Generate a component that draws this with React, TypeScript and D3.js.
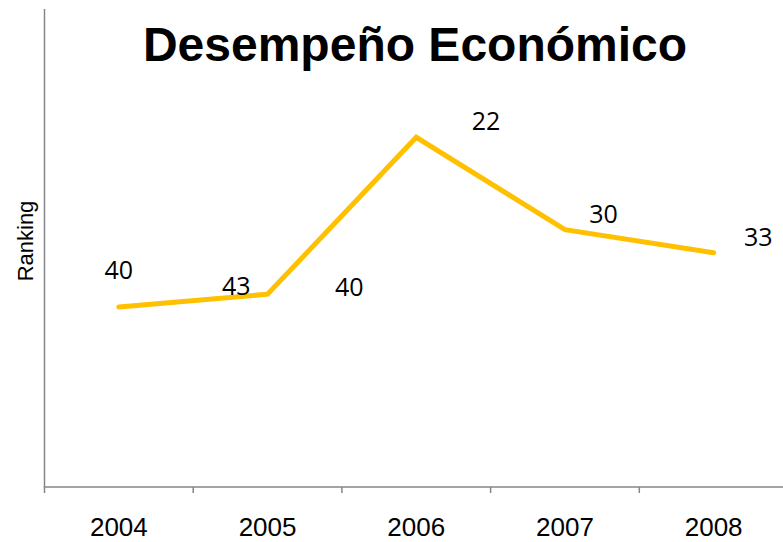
import React from "react";
import * as d3 from "d3";

const title = "Desempeño Económico";
const yAxisLabel = "Ranking";
const categories = ["2004", "2005", "2006", "2007", "2008"];
// plotted line values (on a 0–60 axis without tick labels)
const values = [22.6, 24.2, 43.9, 32.3, 29.4];
// data labels as shown (text, position in category units, value height)
const labelTexts = ["40", "43", "40", "22", "30", "33"];
const labelPos = [0, 0.79, 1.55, 2.47, 3.26, 4.3];
const labelVals = [26.1, 24.1, 24.0, 44.8, 33.1, 30.25];
const yDomain = [0, 60];

const W = 783;
const H = 542;
const left = 44.5;
const right = 788;
const top = 9;
const bottom = 487;

export default function App() {
  const xBand = d3.scaleBand<string>().domain(categories).range([left, right]).padding(0);
  const step = xBand.step();
  const xc = (c: string) => (xBand(c) as number) + step / 2;
  const xi = (i: number) => xc(categories[0]) + i * step;
  const y = d3.scaleLinear().domain(yDomain).range([bottom, top]);

  const line = d3
    .line<number>()
    .x((_, i) => xc(categories[i]))
    .y((d) => y(d));

  const tickXs = categories.map((c) => xBand(c) as number).concat([right]);

  return (
    <svg
      width={W}
      height={H}
      style={{ position: "absolute", left: 0, top: 0, background: "#fff" }}
    >
      <text
        x={415}
        y={61}
        textAnchor="middle"
        fontFamily="Arial, 'Liberation Sans', sans-serif"
        fontWeight="bold"
        fontSize={48}
        fill="#000"
      >
        {title}
      </text>
      <text
        transform={`translate(33,241) rotate(-90)`}
        textAnchor="middle"
        fontFamily="Arial, 'Liberation Sans', sans-serif"
        fontSize={22}
        fill="#000"
      >
        {yAxisLabel}
      </text>
      {/* axes */}
      <line x1={left} x2={left} y1={top} y2={bottom} stroke="#868686" strokeWidth={1.5} />
      <line x1={left - 0.75} x2={right} y1={bottom} y2={bottom} stroke="#868686" strokeWidth={1.5} />
      {tickXs.map((tx, i) => (
        <line key={i} x1={tx} x2={tx} y1={bottom} y2={bottom + 6} stroke="#868686" strokeWidth={1.5} />
      ))}
      {categories.map((c) => (
        <text
          key={c}
          x={xc(c)}
          y={536}
          textAnchor="middle"
          fontFamily="Arial, 'Liberation Sans', sans-serif"
          fontSize={26}
          fill="#000"
        >
          {c}
        </text>
      ))}
      <path
        d={line(values) as string}
        fill="none"
        stroke="#FFC000"
        strokeWidth={5}
        strokeLinecap="round"
        strokeLinejoin="miter"
      />
      {labelTexts.map((t, i) => (
        <text
          key={i}
          x={xi(labelPos[i])}
          y={y(labelVals[i])}
          textAnchor="middle"
          fontFamily="'Open Sans', sans-serif"
          fontSize={25}
          fill="#000"
        >
          {t}
        </text>
      ))}
    </svg>
  );
}
